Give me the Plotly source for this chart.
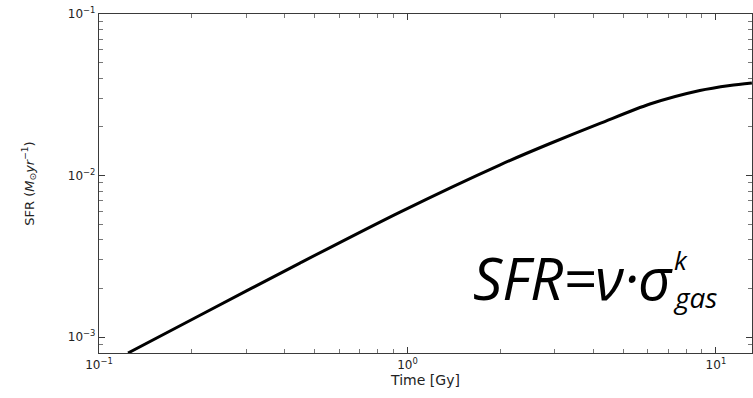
import plotly.graph_objects as go

# Star formation rate history
time_gy = [0.1242, 0.2126, 0.448, 0.946, 1.99, 2.90, 4.21, 6.11, 8.87, 11.1, 13.08]
sfr = [7.96e-4, 1.363e-3, 2.87e-3, 5.94e-3, 1.161e-2, 1.578e-2, 2.10e-2, 2.77e-2, 3.36e-2, 3.61e-2, 3.74e-2]

x_range_log = [-1.0, 1.117]
y_range_log = [-3.099, -1.0]
x_ticks = [0.1, 1, 10]
x_tick_text = ["10<sup>−1</sup>", "10<sup>0</sup>", "10<sup>1</sup>"]
y_ticks = [0.001, 0.01, 0.1]
y_tick_text = ["10<sup>−3</sup>", "10<sup>−2</sup>", "10<sup>−1</sup>"]
x_minor = [m * d for d in (0.1, 1) for m in range(2, 10)] + [20]
y_minor = [m * d for d in (0.0001, 0.001, 0.01) for m in range(2, 10)]

W, H = 753, 398
ML, MR, MT, MB = 99, 1, 14, 45

fig = go.Figure()
fig.add_trace(go.Scatter(
    x=time_gy, y=sfr, mode="lines",
    line=dict(color="black", width=3, shape="spline", smoothing=0.8),
    showlegend=False, hoverinfo="skip",
))

axis_common = dict(
    type="log",
    showgrid=False, zeroline=False,
    showline=True, linecolor="#3a3a3a", linewidth=1.4,
    mirror="ticks", ticks="inside", ticklen=6, tickwidth=1, tickcolor="#3a3a3a",
    tickfont=dict(family="DejaVu Sans", size=12, color="#222222"),
)
minor_style = dict(ticks="inside", ticklen=4, tickwidth=1, tickcolor="#777777", showgrid=False)

fig.update_xaxes(
    range=x_range_log, tickvals=x_ticks, ticktext=x_tick_text,
    minor=dict(tickvals=x_minor, **minor_style),
    title=dict(text="Time [Gy]", font=dict(family="DejaVu Sans", size=14, color="#222222"), standoff=2),
    **axis_common,
)
fig.update_yaxes(
    range=y_range_log, tickvals=y_ticks, ticktext=y_tick_text,
    minor=dict(tickvals=y_minor, **minor_style),
    title=dict(text="SFR (<i>M</i><sub>⊙</sub><i>yr</i><sup>−1</sup>)",
               font=dict(family="DejaVu Sans", size=13, color="#222222"), standoff=30),
    **axis_common,
)

fig.update_layout(
    width=W, height=H,
    margin=dict(l=ML, r=MR, t=MT, b=MB),
    paper_bgcolor="white", plot_bgcolor="white",
)

plot_w = W - ML - MR
plot_h = H - MT - MB


def px_to_paper(px, py):
    return (px - ML) / plot_w, (H - MB - py) / plot_h


def put(text, px, py, size, xanchor, yanchor="bottom"):
    ax, ay = px_to_paper(px, py)
    fig.add_annotation(x=ax, y=ay, xref="paper", yref="paper", text=f"<i>{text}</i>",
                       showarrow=False, xanchor=xanchor, yanchor=yanchor, borderpad=0,
                       font=dict(family="Open Sans", size=size, color="black"))


# Star formation law written on the plot, one symbol at a time
put("SFR", 472, 318, 58, "left")
put("=", 579, 318, 58, "center")
put("ν", 610, 318, 58, "center")
put("·", 631, 318, 58, "center")
put("σ", 655, 318, 58, "center")
put("k", 673, 279, 26, "left")
put("gas", 672, 317, 28, "left")

fig.write_html("out.html")
